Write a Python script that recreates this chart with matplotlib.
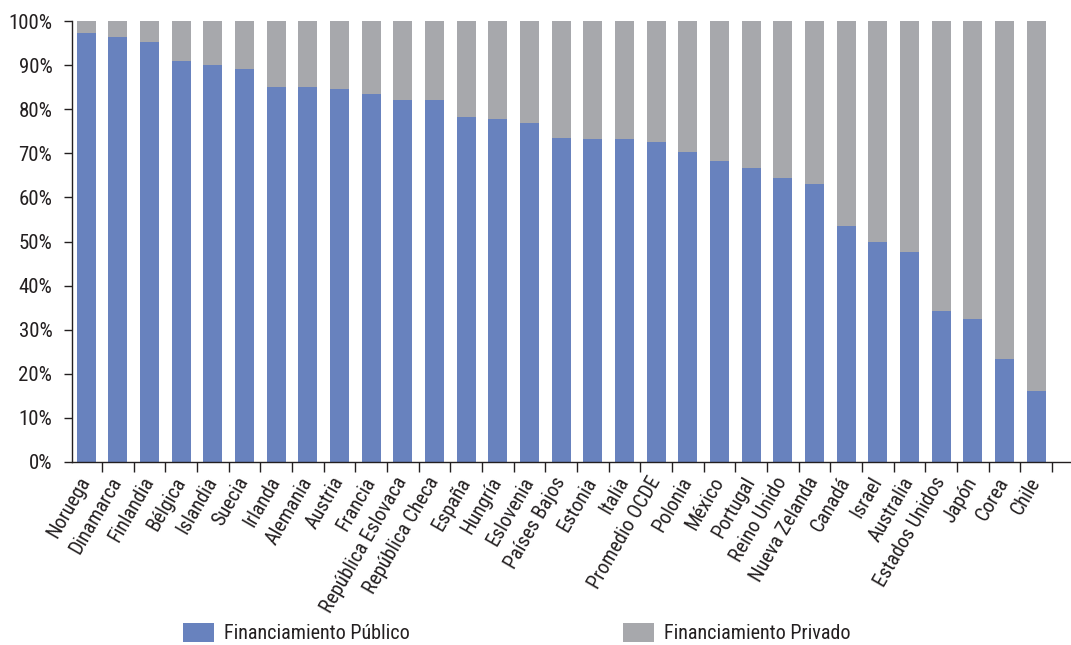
import matplotlib
matplotlib.use("Agg")
import matplotlib.pyplot as plt
from matplotlib import font_manager
import numpy as np

# pick a narrow sans if one is installed, else fall back to Liberation Sans
installed = {f.name for f in font_manager.fontManager.ttflist}
fuente = "Liberation Sans"
tam = 12.5
tam_y = 12.5
for nombre in ["Liberation Sans Narrow", "Roboto Condensed", "Open Sans Condensed", "Noto Sans Condensed"]:
    if nombre in installed:
        fuente = nombre
        tam = 14.5
        tam_y = 15
        break
plt.rcParams['font.family'] = [fuente, 'DejaVu Sans']

paises = ["Noruega", "Dinamarca", "Finlandia", "Bélgica", "Islandia", "Suecia",
          "Irlanda", "Alemania", "Austria", "Francia", "República Eslovaca",
          "República Checa", "España", "Hungría", "Eslovenia", "Países Bajos",
          "Estonia", "Italia", "Promedio OCDE", "Polonia", "México", "Portugal",
          "Reino Unido", "Nueva Zelanda", "Canadá", "Israel", "Australia",
          "Estados Unidos", "Japón", "Corea", "Chile"]
publico = [97.3, 96.4, 95.2, 90.9, 90.0, 89.1, 85.0, 85.0, 84.6, 83.4, 82.1,
           82.1, 78.2, 77.8, 76.9, 73.5, 73.2, 73.2, 72.6, 70.3, 68.3, 66.7,
           64.4, 63.0, 53.5, 49.9, 47.6, 34.2, 32.4, 23.4, 16.1]
privado = [100 - v for v in publico]

azul = "#6882be"
gris = "#a7a8ac"
negro = "#231f20"

fig = plt.figure(figsize=(10.71, 6.45), dpi=100)
ax = fig.add_axes([0.067, 0.284, 0.933, 0.683])

x = np.arange(len(paises))
ax.bar(x, publico, width=0.6, color=azul, label="Financiamiento Público")
ax.bar(x, privado, width=0.6, bottom=publico, color=gris, label="Financiamiento Privado")

ax.set_ylim(0, 100)
ax.set_xlim(-0.45, len(paises) + 0.1)
ax.set_yticks(np.arange(0, 101, 10))
ax.set_yticklabels([f"{v}%" for v in range(0, 101, 10)], fontsize=tam_y, color=negro)

# tick marks between categories, labels at the centres
ax.set_xticks(x + 0.5)
ax.set_xticklabels([])
ax.set_xticks(x, minor=True)
ax.set_xticklabels(paises, minor=True, rotation=60, ha="right", va="center",
                   rotation_mode="anchor", fontsize=tam, color=negro)
ax.tick_params(axis="x", which="minor", length=0, pad=12)
ax.tick_params(axis="x", which="major", length=7, width=1, color=negro)
ax.tick_params(axis="y", length=6, width=1, color=negro, pad=8)

for s in ["top", "right"]:
    ax.spines[s].set_visible(False)
for s in ["left", "bottom"]:
    ax.spines[s].set_color(negro)
    ax.spines[s].set_linewidth(1)

fsz = tam * 100 / 72
fig.legend(loc="center left", bbox_to_anchor=(173 / 1071, 1 - 633 / 645), ncol=2,
           frameon=False, borderpad=0, fontsize=tam,
           handlelength=31 / fsz, handleheight=21 / fsz,
           handletextpad=10 / fsz, columnspacing=213 / fsz, labelcolor=negro)

fig.savefig("out.png", dpi=100)
